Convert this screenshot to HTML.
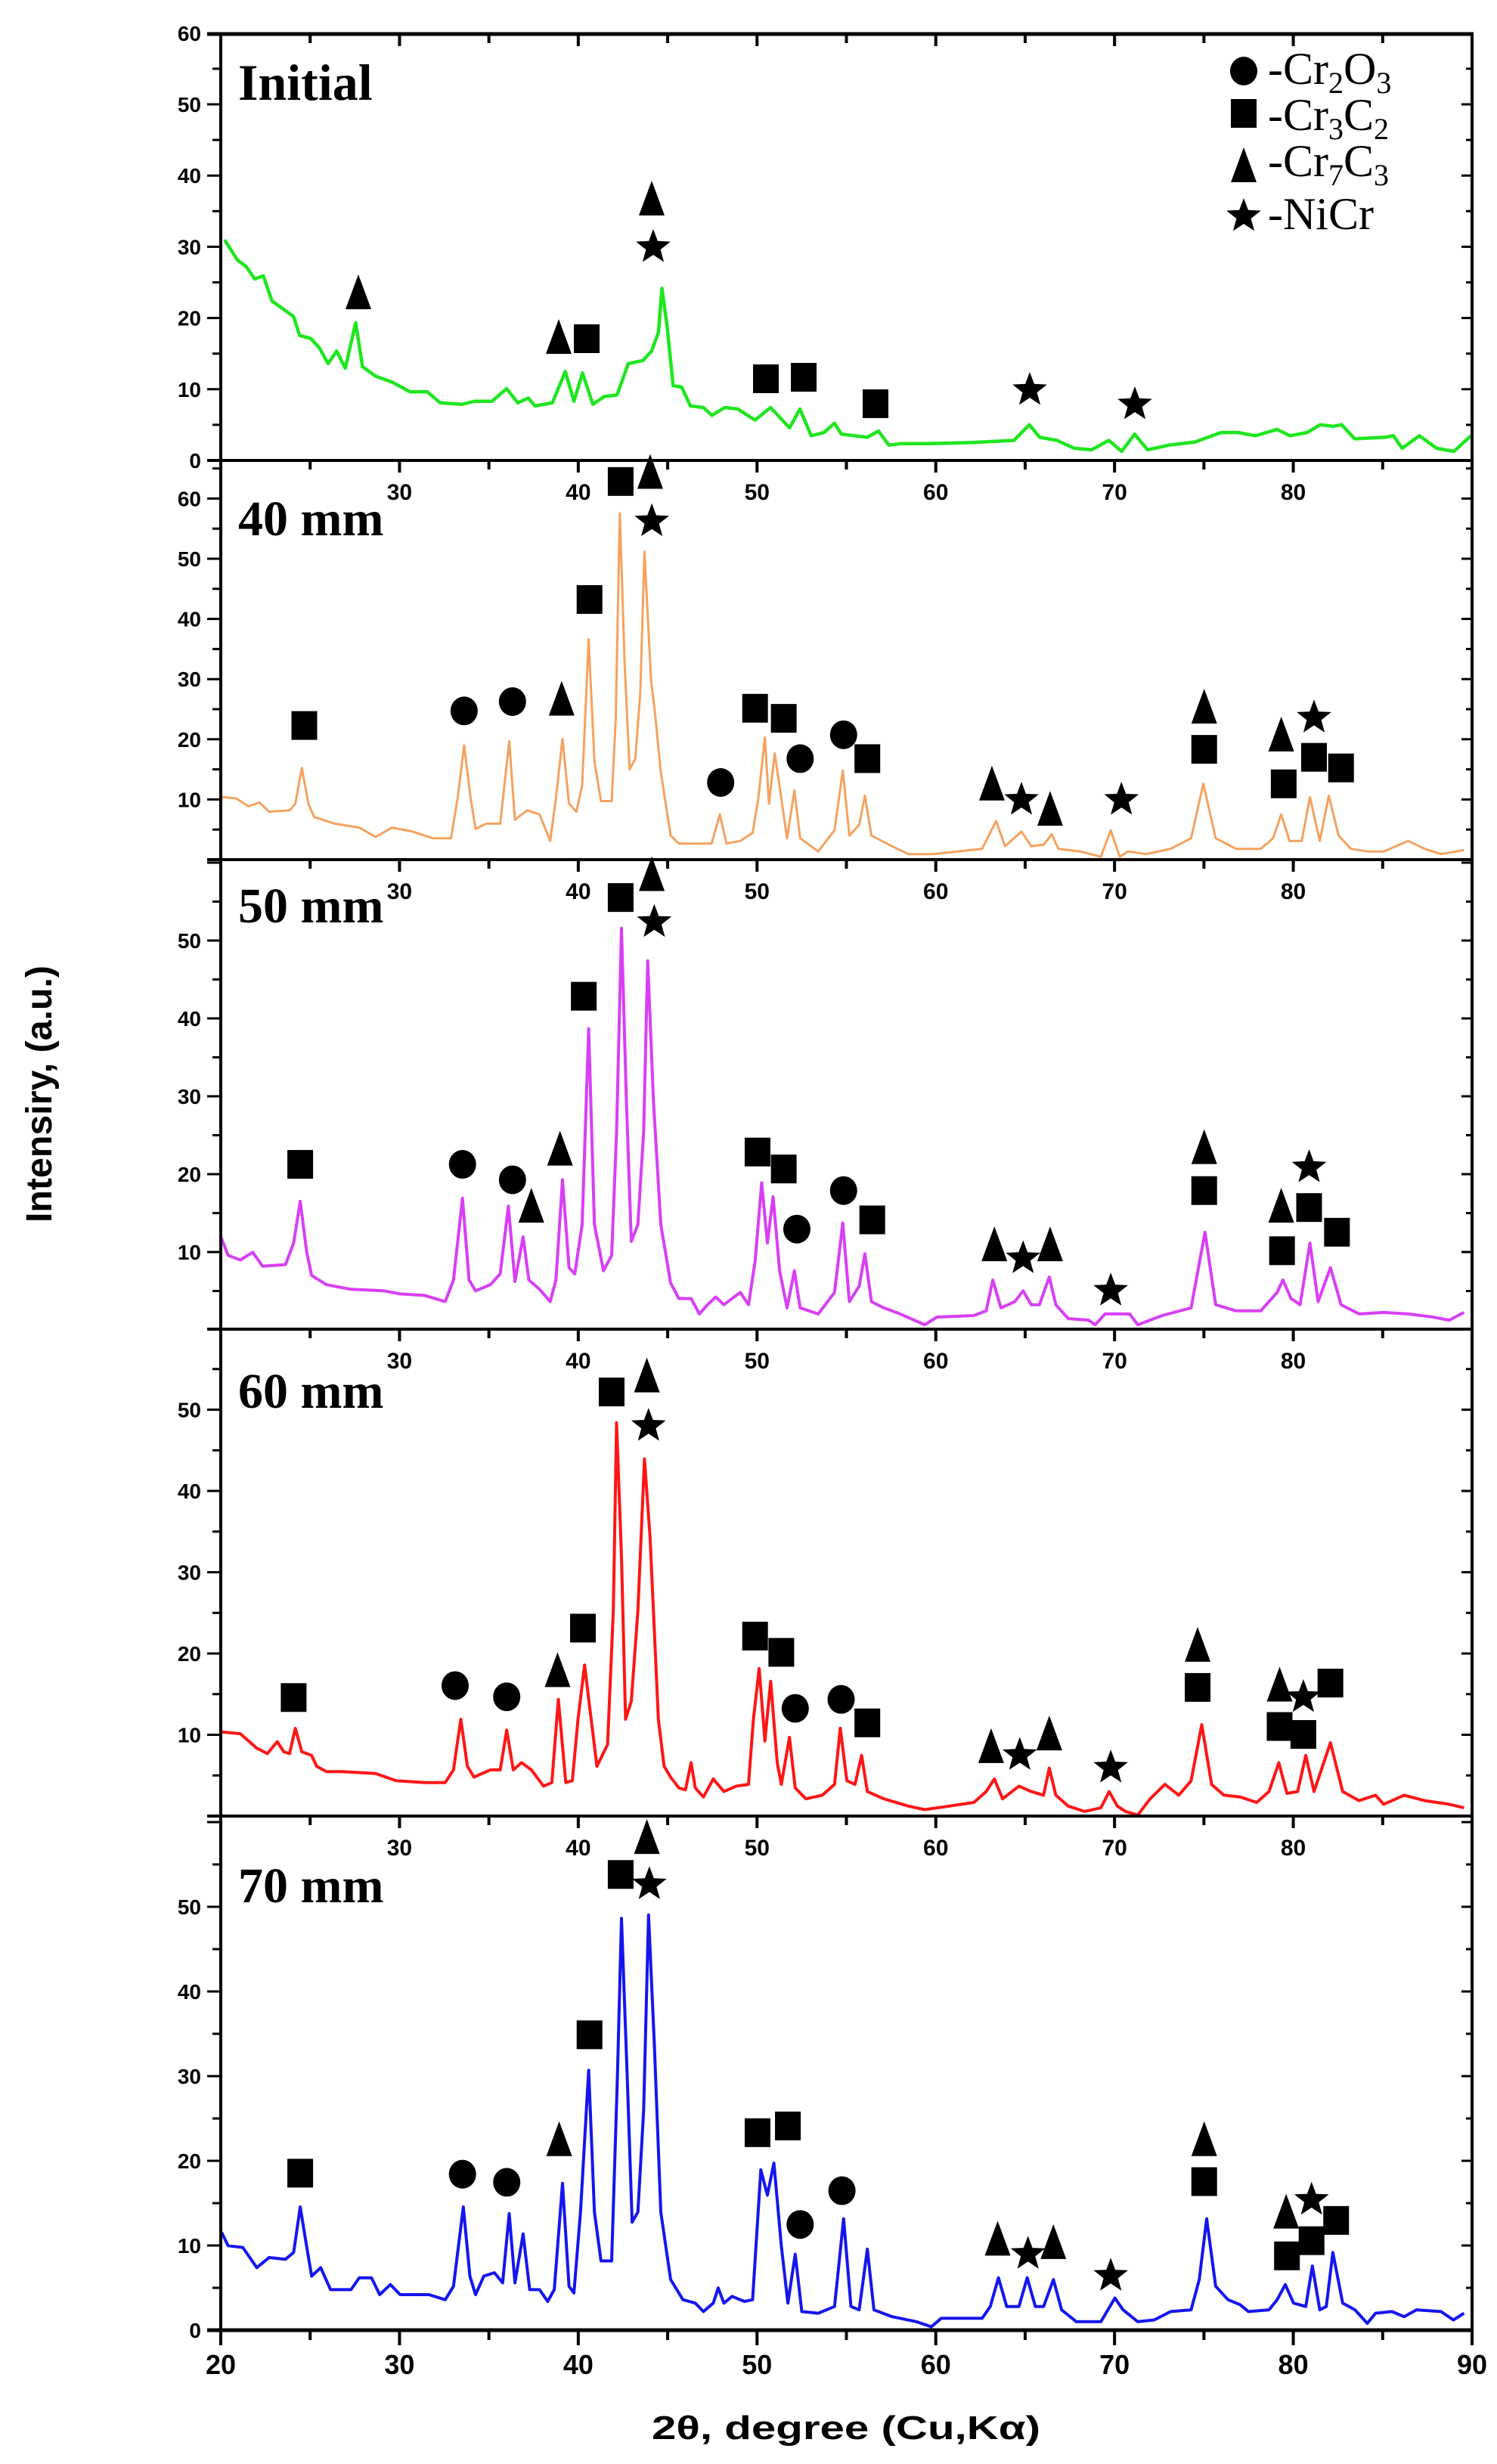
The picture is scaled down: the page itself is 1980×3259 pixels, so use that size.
<!DOCTYPE html>
<html><head><meta charset="utf-8">
<style>
html,body{margin:0;padding:0;background:#fff;}
svg{display:block;}
</style></head>
<body>
<svg id="s" xmlns="http://www.w3.org/2000/svg" width="1980" height="3259" viewBox="0 0 1980 3259">
<rect width="1980" height="3259" fill="#fff"/>
<g id="curves"></g>
<g id="marks"></g>
<g id="axes"></g>
<g font-family="Liberation Serif, serif" font-weight="bold" font-size="66" fill="#000">
<text x="315" y="132" font-size="68">Initial</text>
<text x="315" y="708">40 mm</text>
<text x="315" y="1220">50 mm</text>
<text x="315" y="1862">60 mm</text>
<text x="315" y="2516">70 mm</text>
</g>
<g font-family="Liberation Serif, serif" font-size="60" fill="#000">
<text x="1677" y="111">-Cr<tspan font-size="40" dy="12">2</tspan><tspan dy="-12">O</tspan><tspan font-size="40" dy="12">3</tspan></text>
<text x="1677" y="172">-Cr<tspan font-size="40" dy="12">3</tspan><tspan dy="-12">C</tspan><tspan font-size="40" dy="12">2</tspan></text>
<text x="1677" y="233">-Cr<tspan font-size="40" dy="12">7</tspan><tspan dy="-12">C</tspan><tspan font-size="40" dy="12">3</tspan></text>
<text x="1677" y="303">-NiCr</text>
</g>
<text x="1119" y="3226" text-anchor="middle" font-family="Liberation Sans, sans-serif" font-weight="bold" font-size="44" textLength="514" lengthAdjust="spacingAndGlyphs">2θ, degree (Cu,Kα)</text>
<text transform="translate(68,1447) rotate(-90)" text-anchor="middle" font-family="Liberation Sans, sans-serif" font-weight="bold" font-size="48" textLength="340" lengthAdjust="spacingAndGlyphs">Intensiry, (a.u.)</text>
</svg>
<script>
(function(){
var NS="http://www.w3.org/2000/svg";
function el(p,t,a,txt){var e=document.createElementNS(NS,t);for(var k in a)e.setAttribute(k,a[k]);if(txt!=null)e.textContent=txt;p.appendChild(e);return e;}
var C=document.getElementById('curves'),M=document.getElementById('marks'),A=document.getElementById('axes');
var XL=292,XR=1947;
function xd(v){return XL+(v-20)*(XR-XL)/70;}
// panels: curve pts in zoom coords, transform
var P=[
{col:"#1ee61e",sw:4.5,fx:function(z){return 200+z*1.141},fy:function(z){return z/2.412},
pts:[85,765,100,830,110,850,120,890,130,880,140,960,155,990,165,1010,172,1070,185,1080,195,1110,205,1160,215,1120,225,1175,237,1030,245,1170,260,1200,280,1220,300,1250,320,1250,335,1285,360,1290,375,1280,395,1280,412,1240,425,1285,437,1270,445,1295,465,1285,480,1185,490,1280,500,1190,512,1290,525,1265,540,1260,553,1160,570,1150,580,1120,588,1060,592,920,598,1040,605,1230,615,1235,625,1295,640,1300,650,1325,665,1300,680,1305,700,1340,718,1300,740,1365,752,1305,765,1390,780,1380,792,1350,800,1385,830,1395,843,1375,855,1420,870,1415,900,1415,950,1412,1000,1405,1018,1355,1030,1395,1050,1405,1070,1430,1090,1435,1110,1405,1125,1440,1140,1385,1155,1435,1180,1420,1210,1410,1240,1380,1260,1380,1280,1390,1305,1370,1320,1390,1340,1380,1355,1355,1370,1360,1380,1355,1395,1400,1430,1395,1440,1390,1450,1430,1470,1390,1490,1430,1510,1440,1530,1390],
mk:[]},
{col:"#f5a25e",sw:3,fx:function(z){return 280+z*1.084},fy:function(z){return 600+z*0.3508},
pts:[12,1295,30,1300,45,1330,58,1315,70,1350,95,1345,102,1320,110,1185,118,1320,125,1370,150,1395,180,1410,200,1445,220,1410,245,1425,270,1450,292,1450,300,1300,308,1100,316,1300,322,1415,335,1395,352,1395,363,1085,370,1380,385,1345,400,1360,413,1460,420,1300,428,1075,436,1320,445,1350,452,1250,460,700,467,1160,475,1310,488,1310,493,1000,498,225,504,800,510,1190,517,1150,523,900,528,370,536,850,541,980,548,1200,560,1440,570,1470,590,1470,610,1470,620,1360,628,1470,645,1460,660,1430,667,1300,675,1070,680,1320,687,1130,695,1300,702,1450,711,1270,718,1450,740,1500,760,1420,770,1195,778,1440,790,1400,797,1290,805,1440,830,1480,850,1510,880,1510,910,1500,940,1490,957,1385,968,1480,988,1425,1000,1480,1015,1475,1025,1435,1033,1490,1060,1500,1085,1520,1097,1420,1108,1520,1118,1500,1140,1510,1170,1490,1195,1450,1210,1245,1225,1450,1250,1490,1280,1490,1295,1450,1305,1360,1315,1460,1330,1460,1340,1295,1352,1460,1363,1290,1375,1440,1390,1490,1410,1500,1430,1500,1460,1460,1480,1490,1500,1510,1528,1495],
mk:["s",113,1025,"c",308,970,"c",367,935,"t",427,925,"s",461,550,"s",499,105,"t",535,70,"r",537,250,"c",621,1240,"s",663,960,"s",698,998,"c",718,1150,"c",771,1060,"s",800,1150,"t",952,1245,"r",988,1300,"t",1023,1340,"r",1110,1300,"t",1211,955,"s",1211,1115,"t",1305,1060,"s",1308,1245,"r",1345,990,"s",1345,1145,"s",1378,1185]},
{col:"#d83ff5",sw:4,fx:function(z){return 280+z*1.084},fy:function(z){return 1130+z*0.408},
pts:[12,1245,20,1300,35,1315,50,1290,62,1335,90,1330,100,1260,108,1125,116,1290,122,1365,140,1395,170,1410,210,1415,230,1425,260,1430,285,1450,295,1380,306,1115,314,1380,322,1415,340,1395,352,1360,362,1140,370,1385,380,1240,387,1380,400,1410,413,1450,420,1380,428,1055,436,1340,443,1360,452,1200,460,565,467,1200,478,1350,488,1300,494,900,500,240,506,800,512,1255,520,1200,527,900,532,345,539,800,548,1200,560,1390,570,1440,585,1440,595,1490,605,1460,615,1435,625,1460,635,1440,645,1420,655,1460,663,1320,671,1065,678,1260,685,1110,693,1350,702,1470,711,1350,718,1470,740,1490,760,1420,770,1195,778,1450,790,1400,797,1295,805,1450,820,1470,840,1490,870,1525,885,1500,930,1495,945,1480,953,1380,963,1470,980,1450,990,1415,1000,1460,1010,1460,1022,1370,1030,1460,1045,1505,1070,1510,1078,1525,1090,1490,1120,1490,1130,1525,1160,1495,1195,1470,1212,1225,1225,1460,1250,1480,1280,1480,1300,1420,1307,1380,1317,1440,1328,1460,1340,1260,1350,1450,1365,1340,1378,1460,1400,1490,1430,1485,1460,1490,1490,1500,1510,1510,1528,1485],
mk:["s",108,1005,"c",306,1005,"c",367,1055,"t",390,1140,"t",425,955,"s",454,460,"s",499,140,"t",537,65,"r",540,215,"s",666,965,"s",698,1020,"c",714,1215,"c",771,1090,"s",806,1185,"t",955,1265,"r",990,1305,"t",1023,1265,"r",1097,1410,"t",1211,950,"s",1211,1090,"t",1305,1140,"s",1306,1285,"r",1339,1010,"s",1339,1145,"s",1373,1225]},
{col:"#ff1515",sw:4,fx:function(z){return 280+z*1.084},fy:function(z){return 1700+z*0.4783},
pts:[12,1235,35,1240,55,1280,68,1295,80,1262,88,1290,95,1295,102,1225,110,1290,122,1300,128,1330,140,1345,160,1345,200,1350,225,1370,260,1375,285,1375,295,1340,304,1200,312,1330,320,1360,340,1340,352,1340,360,1230,368,1340,378,1320,390,1340,405,1385,415,1375,423,1145,432,1375,440,1370,447,1200,455,1050,463,1200,470,1330,483,1270,490,900,494,380,500,750,505,1200,512,1150,520,900,528,480,535,700,545,1200,552,1330,560,1360,570,1390,578,1395,585,1320,590,1390,600,1415,612,1365,625,1400,640,1385,655,1380,661,1200,668,1060,675,1260,682,1095,690,1320,695,1380,705,1250,712,1390,725,1420,745,1410,760,1380,767,1225,775,1370,785,1380,793,1300,800,1400,820,1420,850,1440,870,1450,900,1440,930,1430,945,1400,955,1365,965,1420,985,1385,1000,1400,1015,1410,1022,1335,1030,1410,1045,1440,1065,1455,1085,1445,1095,1400,1105,1440,1115,1455,1130,1465,1145,1420,1163,1380,1180,1410,1195,1370,1208,1215,1220,1380,1235,1410,1255,1415,1275,1430,1290,1400,1302,1320,1312,1405,1325,1400,1335,1300,1345,1400,1365,1265,1380,1400,1400,1425,1420,1410,1430,1435,1455,1410,1480,1425,1510,1435,1528,1445],
mk:["s",100,1140,"c",297,1107,"c",360,1138,"t",422,1065,"s",453,948,"s",488,295,"t",531,250,"r",533,385,"s",663,970,"s",695,1015,"c",712,1170,"c",768,1145,"s",800,1210,"t",951,1275,"r",986,1295,"t",1022,1240,"r",1097,1330,"t",1203,995,"s",1203,1112,"t",1303,1105,"s",1303,1220,"r",1332,1135,"s",1332,1242,"s",1365,1100]},
{col:"#1515ee",sw:4,fx:function(z){return 280+z*1.084},fy:function(z){return 2390+z*0.4464},
pts:[12,1260,20,1300,38,1305,55,1365,70,1335,90,1340,100,1320,108,1185,115,1290,122,1390,133,1365,145,1430,170,1430,180,1395,195,1395,205,1445,218,1415,230,1445,265,1445,285,1460,295,1420,307,1185,315,1390,322,1445,332,1390,345,1380,355,1410,363,1205,370,1410,380,1265,388,1430,400,1430,410,1465,418,1430,428,1115,436,1420,442,1440,450,1200,460,780,467,1200,475,1345,488,1345,495,800,500,330,507,800,513,1230,520,1200,527,900,533,320,540,700,548,1200,560,1400,575,1460,590,1470,600,1495,612,1470,618,1425,625,1470,635,1450,650,1465,660,1460,670,1075,678,1150,686,1055,695,1300,703,1470,712,1325,720,1495,740,1500,760,1480,771,1220,780,1480,790,1490,800,1310,808,1490,830,1510,860,1525,878,1540,890,1515,940,1515,950,1480,960,1395,970,1480,985,1480,995,1395,1005,1480,1015,1480,1027,1400,1037,1490,1055,1525,1085,1525,1102,1455,1112,1490,1130,1525,1150,1520,1170,1495,1195,1490,1205,1400,1214,1220,1225,1420,1240,1460,1255,1475,1265,1495,1290,1490,1300,1460,1310,1415,1320,1470,1335,1480,1343,1360,1352,1490,1360,1480,1368,1320,1380,1470,1395,1490,1410,1530,1420,1500,1440,1495,1455,1510,1470,1490,1500,1495,1515,1520,1528,1500],
mk:["s",108,1085,"c",306,1088,"c",360,1112,"t",424,985,"s",461,675,"s",499,200,"t",531,90,"r",534,225,"s",666,965,"s",703,945,"c",718,1237,"c",769,1137,"t",959,1280,"r",996,1320,"t",1027,1290,"r",1097,1385,"t",1211,985,"s",1211,1110,"t",1311,1200,"s",1312,1330,"r",1342,1160,"s",1342,1285,"s",1372,1225]}
];
function starPath(cx,cy,R){var r=R*0.42,d="";for(var i=0;i<10;i++){var a=-Math.PI/2+i*Math.PI/5,rr=i%2?r:R;d+=(i?"L":"M")+(cx+rr*Math.cos(a)).toFixed(1)+","+(cy+rr*Math.sin(a)).toFixed(1);}return d+"Z";}
function mark(t,x,y){
 if(t=="s")el(M,"rect",{x:x-17,y:y-19,width:34,height:38,fill:"#000"});
 else if(t=="c")el(M,"ellipse",{cx:x,cy:y,rx:18,ry:19,fill:"#000"});
 else if(t=="t")el(M,"polygon",{points:(x-17)+","+(y+22)+" "+(x+17)+","+(y+22)+" "+x+","+(y-24),fill:"#000"});
 else el(M,"path",{d:starPath(x,y+2,24),fill:"#000"});
}
P.forEach(function(p){
 var s="";for(var i=0;i<p.pts.length;i+=2){s+=p.fx(p.pts[i]).toFixed(1)+","+p.fy(p.pts[i+1]).toFixed(1)+" ";}
 el(C,"polyline",{points:s,fill:"none",stroke:p.col,"stroke-width":p.sw,"stroke-linejoin":"round"});
 for(var j=0;j<p.mk.length;j+=3)mark(p.mk[j],p.fx(p.mk[j+1]),p.fy(p.mk[j+2]));
});
// panel 1 markers in full coords
[["t",474,387],["t",739,446],["s",776,448],["t",862,263],["r",864,325],["s",1013,501],["s",1063,499],["s",1158,534],["r",1362,514],["r",1501,533],
 ["c",1645,94],["s",1645,150],["t",1645,219],["r",1645,284]].forEach(function(m){mark(m[0],m[1],m[2]);});
// axes
var seps=[45,609,1137,1758,2402,3082];
el(A,"line",{x1:XL,y1:45,x2:XL,y2:3082,stroke:"#000","stroke-width":4});
el(A,"line",{x1:XR,y1:45,x2:XR,y2:3082,stroke:"#000","stroke-width":4});
seps.forEach(function(y,i){
 el(A,"line",{x1:XL-18,y1:y,x2:XR+2,y2:y,stroke:"#000","stroke-width":(i==0||i==5)?5:4});
 if(i<5){for(var v=25;v<=85;v+=5){el(A,"line",{x1:xd(v),y1:y,x2:xd(v),y2:y+(v%10==0?16:12),stroke:"#000","stroke-width":4});}}
 if(i>=1&&i<5){for(var v=30;v<=80;v+=10)el(A,"text",{x:xd(v),y:y+52,"text-anchor":"middle","font-family":"Liberation Sans, sans-serif","font-weight":"bold","font-size":30},String(v));}
});
for(var v=20;v<=90;v+=5){el(A,"line",{x1:xd(v),y1:3082,x2:xd(v),y2:3082+(v%10==0?20:13),stroke:"#000","stroke-width":4});}
for(var v=20;v<=90;v+=10)el(A,"text",{x:xd(v),y:3140,"text-anchor":"middle","font-family":"Liberation Sans, sans-serif","font-weight":"bold","font-size":36},String(v));
// y ticks
var Y=[{z:609,k:9.42,top:45,vals:[0,10,20,30,40,50,60]},{z:1137,k:7.96,top:609,vals:[10,20,30,40,50,60]},{z:1759,k:10.3,top:1137,vals:[10,20,30,40,50]},{z:2402,k:10.75,top:1758,vals:[10,20,30,40,50]},{z:3082,k:11.2,top:2402,vals:[0,10,20,30,40,50]}];
Y.forEach(function(q){
 for(var v=0;v<=65;v+=5){var y=q.z-v*q.k;if(y<q.top+4||y>q.z-2)continue;var maj=v%10==0;
  el(A,"line",{x1:XL-(maj?18:11),y1:y,x2:XL,y2:y,stroke:"#000","stroke-width":3});
  el(A,"line",{x1:XR-(maj?14:8),y1:y,x2:XR,y2:y,stroke:"#000","stroke-width":3});}
 q.vals.forEach(function(v){el(A,"text",{x:266,y:q.z-v*q.k+10,"text-anchor":"end","font-family":"Liberation Sans, sans-serif","font-weight":"bold","font-size":28},String(v));});
});
})();
</script>
</body></html>
